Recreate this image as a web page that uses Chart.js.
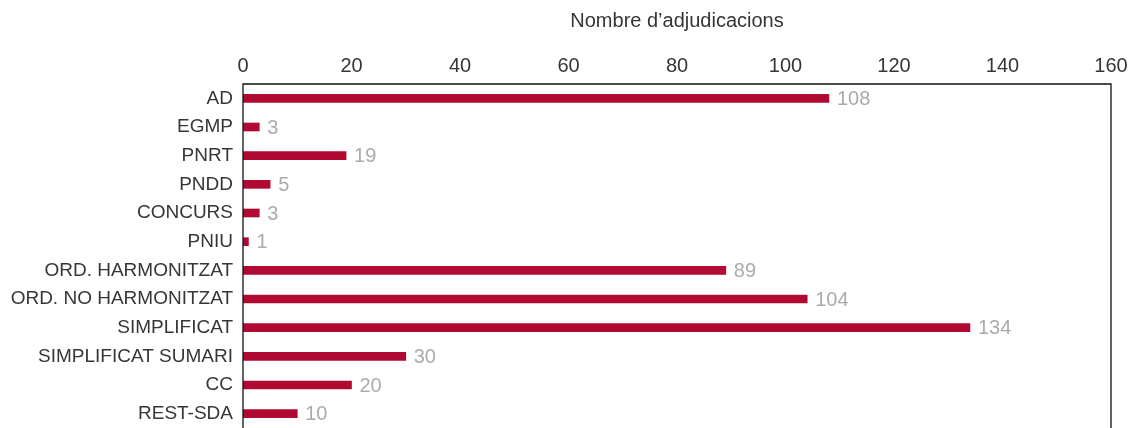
<!DOCTYPE html>
<html lang="ca">
<head>
    <meta charset="UTF-8">
    <title>Nombre d'adjudicacions</title>
    <style>
        body {
            margin: 0;
            background-color: #fff;
            overflow: hidden;
        }
    </style>
    <script src="https://cdn.jsdelivr.net/npm/chart.js"></script>
</head>
<body>
    <canvas id="procChart" width="1137" height="428"></canvas>
    <script>
        const categories = ['AD', 'EGMP', 'PNRT', 'PNDD', 'CONCURS', 'PNIU', 'ORD. HARMONITZAT',
            'ORD. NO HARMONITZAT', 'SIMPLIFICAT', 'SIMPLIFICAT SUMARI', 'CC', 'REST-SDA'];
        const adjudicacions = [108, 3, 19, 5, 3, 1, 89, 104, 134, 30, 20, 10];
        const xTicks = [0, 20, 40, 60, 80, 100, 120, 140, 160];

        const fontFamily = '"Liberation Sans", Arial, sans-serif';
        const textColor = '#363636';

        // draws the frame (left, top, right) and the grey value labels
        const framePlugin = {
            id: 'frame',
            afterDatasetsDraw(chart) {
                const ctx = chart.ctx;
                const a = chart.chartArea;
                ctx.save();
                ctx.strokeStyle = '#111';
                ctx.lineWidth = 1.3;
                ctx.beginPath();
                ctx.moveTo(a.left, a.bottom + 2);
                ctx.lineTo(a.left, a.top);
                ctx.lineTo(a.right, a.top);
                ctx.lineTo(a.right, a.bottom + 2);
                ctx.stroke();

                const meta = chart.getDatasetMeta(0);
                ctx.fillStyle = '#ababab';
                ctx.font = '20px ' + fontFamily;
                ctx.textAlign = 'left';
                ctx.textBaseline = 'middle';
                meta.data.forEach((bar, i) => {
                    ctx.fillText(String(adjudicacions[i]), bar.x + 8, bar.y + 1);
                });
                ctx.restore();
            }
        };

        new Chart(document.getElementById('procChart'), {
            type: 'bar',
            data: {
                labels: categories,
                datasets: [{
                    data: adjudicacions,
                    backgroundColor: '#b00a33',
                    barThickness: 8,
                    borderWidth: 0
                }]
            },
            options: {
                indexAxis: 'y',
                responsive: false,
                animation: false,
                layout: { padding: { top: 0, right: 26, bottom: 0, left: 0 } },
                plugins: {
                    legend: { display: false },
                    tooltip: { enabled: false }
                },
                scales: {
                    x: {
                        position: 'top',
                        min: 0,
                        max: 160,
                        afterBuildTicks(scale) {
                            scale.ticks = xTicks.map(v => ({ value: v }));
                        },
                        afterFit(scale) { scale.height = 84; },
                        grid: { display: false, drawTicks: false },
                        border: { display: false },
                        ticks: {
                            color: textColor,
                            padding: 6,
                            maxRotation: 0,
                            font: { family: fontFamily, size: 20 }
                        },
                        title: {
                            display: true,
                            text: 'Nombre d\u2019adjudicacions',
                            color: textColor,
                            padding: { top: 9, bottom: 14 },
                            font: { family: fontFamily, size: 20 }
                        }
                    },
                    y: {
                        afterFit(scale) {
                            scale.width = 243;
                            scale.paddingTop = 0;
                            scale.paddingBottom = 0;
                        },
                        grid: { display: false, drawTicks: false },
                        border: { display: false },
                        ticks: {
                            color: textColor,
                            padding: 10,
                            autoSkip: false,
                            font: { family: fontFamily, size: 19 }
                        }
                    }
                }
            },
            plugins: [framePlugin]
        });
    </script>
</body>
</html>
